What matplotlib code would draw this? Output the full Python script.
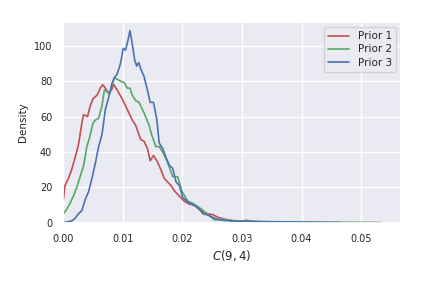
import matplotlib
matplotlib.use("Agg")
import matplotlib.pyplot as plt
import numpy as np
import seaborn as sns

# values (x in C(9,4) units, y in density)
prior1_x = [0.0, 0.00028, 0.00085, 0.0014, 0.002, 0.00254, 0.0031, 0.00339, 0.00407,
            0.00452, 0.00497, 0.00565, 0.00621, 0.00661, 0.00706, 0.00763, 0.00808,
            0.00847, 0.00904, 0.00989, 0.01073, 0.01158, 0.01215, 0.01299, 0.01356,
            0.01412, 0.01458, 0.01514, 0.01571, 0.01638, 0.01695, 0.01751, 0.01808,
            0.01864, 0.01949, 0.02034, 0.02119, 0.02203, 0.0226, 0.02345, 0.0243,
            0.02514, 0.02599, 0.02712, 0.02825, 0.02994, 0.03079, 0.03220, 0.03446,
            0.04011, 0.04576, 0.0534]
prior1_y = [13, 21, 25, 30, 37, 44, 56, 61, 60, 66, 70, 72, 76, 78, 76, 73, 75, 78,
            75, 70, 64, 58, 55, 47, 46, 42, 35, 38, 35, 30, 25, 23, 21, 18, 15, 12,
            10.5, 10, 8, 6, 5, 4.5, 3, 2, 1.2, 1.0, 1.3, 0.5, 0.3, 0.1, 0.05, 0.05]

prior2_x = [0.0, 0.00056, 0.00113, 0.00169, 0.00226, 0.00282, 0.00339, 0.00395,
            0.0044, 0.00497, 0.00537, 0.00593, 0.0065, 0.00689, 0.00734, 0.00780,
            0.00819, 0.00859, 0.00904, 0.00960, 0.01028, 0.01073, 0.01119, 0.01158,
            0.01215, 0.01271, 0.01356, 0.01441, 0.0148, 0.01554, 0.0161, 0.01684,
            0.01751, 0.01836, 0.0192, 0.01989, 0.0209, 0.02175, 0.0226, 0.02328,
            0.02429, 0.02542, 0.02655, 0.02881, 0.03446, 0.04576, 0.0523]
prior2_y = [5, 7.5, 11, 15, 20, 26, 32, 43, 48, 56, 58, 59, 66, 75, 74, 73, 78, 82,
            81, 80, 79, 76, 76, 72, 69, 68, 62, 55, 50, 43, 43, 39, 34, 26, 26, 18,
            12, 11, 9, 7.5, 4.5, 1.5, 2, 1.0, 0.5, 0.2, 0.05]

prior3_x = [0.0, 0.00141, 0.00198, 0.00254, 0.0031, 0.00367, 0.00424, 0.0048,
            0.00537, 0.00593, 0.0065, 0.00706, 0.00763, 0.00819, 0.00859, 0.00904,
            0.00960, 0.01006, 0.01045, 0.01085, 0.01119, 0.01158, 0.01198, 0.01232,
            0.01266, 0.01299, 0.01356, 0.01412, 0.01458, 0.01514, 0.01571, 0.0161,
            0.01667, 0.01723, 0.0178, 0.01836, 0.01893, 0.01949, 0.02006, 0.0209,
            0.02175, 0.0226, 0.02345, 0.0243, 0.02542, 0.02627, 0.02881, 0.0464]
prior3_y = [0, 1, 2.5, 5, 6.8, 13, 17.5, 25, 33.5, 43, 50, 64, 71, 79, 82, 84, 90,
            98.5, 97.5, 103, 108.5, 101, 92, 88.5, 90.5, 87, 82.5, 75, 68, 68, 58,
            45, 42, 37, 32.5, 30.7, 23, 21, 14, 12, 10, 8.7, 5, 4.3, 2.5, 1.5, 0.8,
            0.05]

series = [("Prior 1", prior1_x, prior1_y, "#C44E52"),
          ("Prior 2", prior2_x, prior2_y, "#55A868"),
          ("Prior 3", prior3_x, prior3_y, "#4C72B0")]

sns.set_theme(style="darkgrid")
plt.rcParams["font.family"] = ["DejaVu Sans"]

fig = plt.figure(figsize=(4.23, 2.82), dpi=100)
ax = fig.add_axes([0.1497, 0.2103, 0.7983, 0.7117])

for label, xs, ys, color in series:
    ax.plot(np.array(xs), np.array(ys), color=color, linewidth=1.2, label=label)

ax.set_xlim(0, 0.0567)
ax.set_ylim(0, 113.4)
ax.set_xticks([0.0, 0.01, 0.02, 0.03, 0.04, 0.05])
ax.set_xticklabels(["0.00", "0.01", "0.02", "0.03", "0.04", "0.05"])
ax.set_yticks([0, 20, 40, 60, 80, 100])
ax.tick_params(axis="both", labelsize=7, pad=2, colors="#262626")
ax.set_xlabel("$C(9,4)$", fontsize=8.5, labelpad=3)
ax.set_ylabel("Density", fontsize=7.5, labelpad=4)
ax.legend(loc="upper right", fontsize=7.5, handlelength=2.0, borderpad=0.4,
          labelspacing=0.3)

fig.savefig("out.png", dpi=100)
